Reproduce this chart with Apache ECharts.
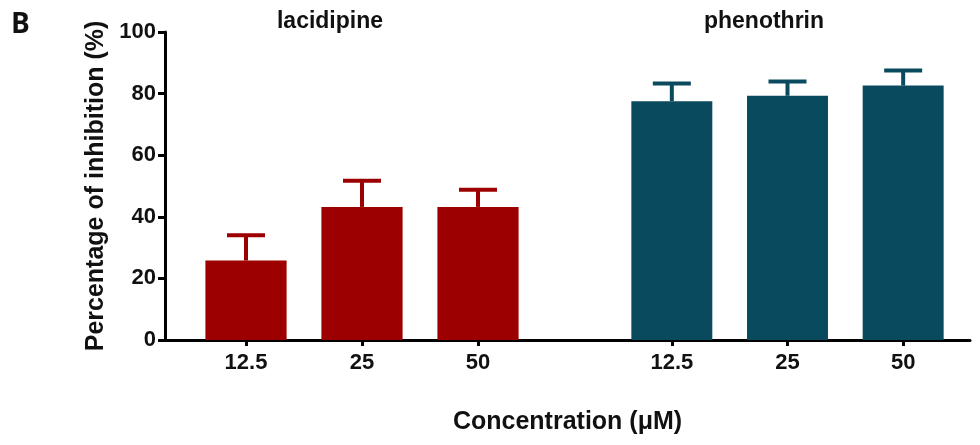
<!DOCTYPE html>
<html><head><meta charset="utf-8">
<script src="https://cdn.jsdelivr.net/npm/echarts@6/dist/echarts.min.js"></script>
<style>html,body{margin:0;padding:0;background:#fff}#c{width:980px;height:445px}</style>
</head><body><div id="c"></div>
<script>
const categories = ['12.5', '25', '50'];
const lacidipineMean = [25.8, 43.2, 43.2];
const lacidipineSD = [8.2, 8.5, 5.6];
const phenothrinMean = [77.5, 79.3, 82.6];
const phenothrinSD = [5.8, 4.6, 4.9];
const yTicks = [0, 20, 40, 60, 80, 100];

const RED = '#9c0000';
const TEAL = '#0a4a5e';
const FONT = '"Liberation Sans", Arial, sans-serif';

function errSeries(idx, means, sds, color) {
  return {
    type: 'custom', xAxisIndex: idx, yAxisIndex: idx, z: 5,
    data: means.map((m, i) => [i, m, sds[i]]),
    renderItem: function (params, api) {
      const i = api.value(0), m = api.value(1), s = api.value(2);
      const p0 = api.coord([i, m]);
      const p1 = api.coord([i, m + s]);
      const hw = 19;
      const st = { stroke: color, lineWidth: 4 };
      return { type: 'group', children: [
        { type: 'line', shape: { x1: p0[0], y1: p0[1], x2: p1[0], y2: p1[1] }, style: st },
        { type: 'line', shape: { x1: p1[0] - hw, y1: p1[1], x2: p1[0] + hw, y2: p1[1] }, style: st }
      ]};
    }
  };
}

const chart = echarts.init(document.getElementById('c'), null, { renderer: 'canvas' });
const gTop = 32, gBottom = 105;
const catAxis = (gi) => ({
  type: 'category', gridIndex: gi, data: categories,
  axisLine: { show: false },
  axisTick: { show: true, alignWithLabel: true, length: 6, lineStyle: { color: '#000', width: 3 } },
  axisLabel: { color: '#111', fontFamily: FONT, fontWeight: 'bold', fontSize: 22, margin: 12 },
  splitLine: { show: false }
});
const hiddenY = (gi) => ({ type: 'value', gridIndex: gi, min: 0, max: 100, show: false });

chart.setOption({
  animation: false,
  grid: [
    { left: 165, right: 10, top: gTop, bottom: gBottom },
    { left: 188, width: 348, top: gTop, bottom: gBottom },
    { left: 614, width: 347, top: gTop, bottom: gBottom }
  ],
  xAxis: [
    { type: 'value', gridIndex: 0, min: 0, max: 1,
      axisLine: { show: true, lineStyle: { color: '#000', width: 3 } },
      axisTick: { show: false }, axisLabel: { show: false }, splitLine: { show: false },
      name: 'Concentration (\u03bcM)', nameLocation: 'middle', nameGap: 70,
      nameTextStyle: { color: '#111', fontFamily: FONT, fontWeight: 'bold', fontSize: 25 } },
    catAxis(1), catAxis(2)
  ],
  yAxis: [
    { type: 'value', gridIndex: 0, min: yTicks[0], max: yTicks[yTicks.length - 1], interval: 20,
      axisLine: { show: true, lineStyle: { color: '#000', width: 3 } },
      axisTick: { show: true, length: 7, lineStyle: { color: '#000', width: 3 } },
      axisLabel: { color: '#111', fontFamily: FONT, fontWeight: 'bold', fontSize: 22, margin: 9 },
      splitLine: { show: false },
      name: 'Percentage of inhibition (%)', nameLocation: 'middle', nameRotate: 90, nameGap: 47,
      nameTextStyle: { color: '#111', fontFamily: FONT, fontWeight: 'bold', fontSize: 25 } },
    hiddenY(1), hiddenY(2)
  ],
  graphic: [
    { type: 'text', x: 11, y: 25, style: { text: 'B', font: 'bold 28px "Open Sans", sans-serif', fill: '#111', align: 'left', verticalAlign: 'middle' } },
    { type: 'text', x: 330, y: 22, style: { text: 'lacidipine', font: 'bold 23px ' + FONT, fill: '#111', align: 'center', verticalAlign: 'middle' } },
    { type: 'text', x: 764, y: 22, style: { text: 'phenothrin', font: 'bold 23px ' + FONT, fill: '#111', align: 'center', verticalAlign: 'middle' } }
  ],
  series: [
    { type: 'bar', xAxisIndex: 1, yAxisIndex: 1, data: lacidipineMean, barWidth: '70%', itemStyle: { color: RED } },
    errSeries(1, lacidipineMean, lacidipineSD, RED),
    { type: 'bar', xAxisIndex: 2, yAxisIndex: 2, data: phenothrinMean, barWidth: '70%', itemStyle: { color: TEAL } },
    errSeries(2, phenothrinMean, phenothrinSD, TEAL)
  ]
});
</script></body></html>
